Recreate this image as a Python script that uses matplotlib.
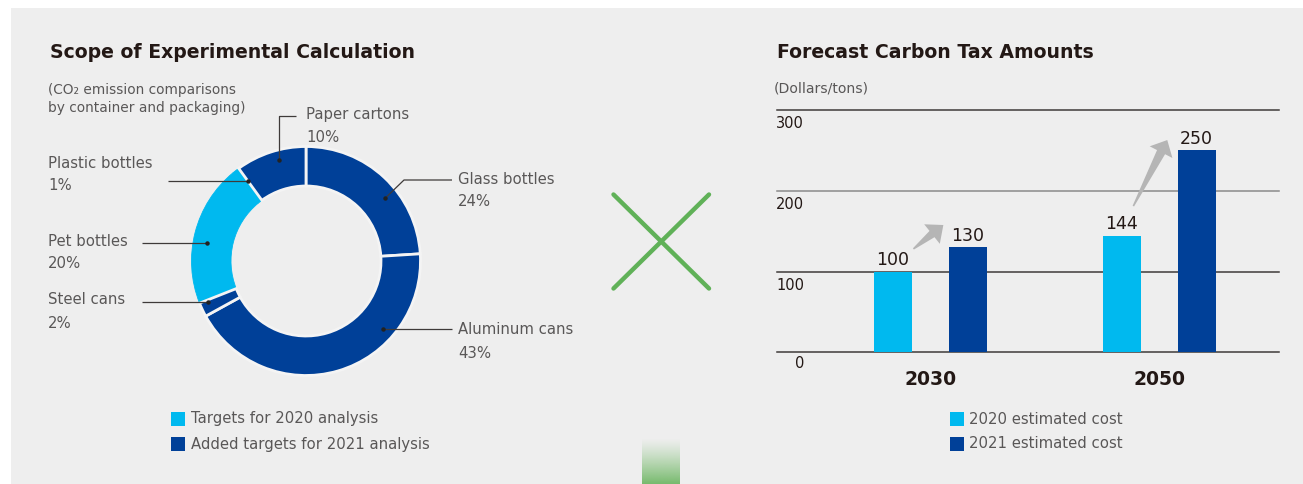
import numpy as np
import matplotlib
matplotlib.use("Agg")
import matplotlib.pyplot as plt
from matplotlib.patches import Rectangle, Polygon

# ---------------- data ----------------
pie_labels = ["Glass bottles", "Aluminum cans", "Steel cans", "Pet bottles", "Plastic bottles", "Paper cartons"]
pie_values = [24, 43, 2, 20, 1, 10]
pie_group = [1, 1, 1, 0, 0, 1]          # 0 = Targets for 2020, 1 = Added for 2021
pie_legend = ["Targets for 2020 analysis", "Added targets for 2021 analysis"]

years = ["2030", "2050"]
cost_2020 = [100, 144]
cost_2021 = [130, 250]
bar_legend = ["2020 estimated cost", "2021 estimated cost"]
y_ticks = [0, 100, 200, 300]

LIGHT = "#00b9ef"
DARK = "#004098"
colors = [LIGHT, DARK]
TXT = "#595757"
DK = "#231815"
BG = "#eeeeee"
FONT = "DejaVu Sans"
plt.rcParams["font.family"] = [FONT]

W, H = 1303, 484
fig = plt.figure(figsize=(W / 100, H / 100), dpi=100)
fig.patch.set_facecolor("white")


def frac(x0, ytop, w, h):
    return [x0 / W, (H - ytop - h) / H, w / W, h / H]


# background axes (pixel coords, y down)
ax_bg = fig.add_axes([0, 0, 1, 1], zorder=0)
ax_bg.set_xlim(0, W)
ax_bg.set_ylim(H, 0)
ax_bg.axis("off")
ax_bg.add_patch(Rectangle((11, 8), W - 11, H - 8, color=BG, lw=0))

# gradient strip
grad = np.zeros((60, 1, 4))
g = np.array([120, 187, 110]) / 255
grad[:, 0, :3] = g
grad[:, 0, 3] = np.linspace(0, 1, 60) ** 1.2
ax_bg.imshow(grad, extent=(642, 680, 484, 438), aspect="auto", interpolation="bilinear", zorder=1)
ax_bg.set_xlim(0, W)
ax_bg.set_ylim(H, 0)

# green X
for (x0, y0, x1, y1) in [(613.5, 194.5, 709, 288.5), (709, 194.5, 613.5, 288.5)]:
    ax_bg.plot([x0, x1], [y0, y1], color="#60b158", lw=3.2, solid_capstyle="round")

# ---------------- donut ----------------
cx, cy, R, half = 306, 261, 114.5, 120
ax_pie = fig.add_axes(frac(cx - half, cy - half, 2 * half, 2 * half), zorder=1)
ax_pie.patch.set_alpha(0)
wedges, _ = ax_pie.pie(pie_values, colors=[colors[g] for g in pie_group], startangle=90,
                       counterclock=False, radius=1, wedgeprops=dict(width=0.345))
for w, grp in zip(wedges, pie_group):
    if grp == 0:
        w.set_edgecolor(w.get_facecolor())
        w.set_linewidth(0.6)
        w.set_zorder(1)
    else:
        w.set_edgecolor("#f4f4f4")
        w.set_linewidth(2.0)
        w.set_zorder(2)
lim = half / R
ax_pie.set_xlim(-lim, lim)
ax_pie.set_ylim(-lim, lim)
ax_pie.axis("off")

# top overlay (pixel coords, y down)
ax_top = fig.add_axes([0, 0, 1, 1], zorder=3)
ax_top.set_xlim(0, W)
ax_top.set_ylim(H, 0)
ax_top.axis("off")
ax_top.patch.set_alpha(0)


def ring_pt(angle_deg, r):
    a = np.deg2rad(angle_deg)
    return cx + R * r * np.sin(a), cy - R * r * np.cos(a)


LC = "#3e3a39"
# label layout: (text x, text y, anchor angle, anchor radius, route)
layout = {
    "Glass bottles": (458, 179, 51.6, 0.88, "glass"),
    "Aluminum cans": (458, 330, 131.5, 0.90, "right"),
    "Steel cans": (48, 300, 247.4, 0.93, "left"),
    "Pet bottles": (48, 241, 280.2, 0.88, "left"),
    "Plastic bottles": (48, 163, 324.1, 0.86, "left_far"),
    "Paper cartons": (306, 115, 345.2, 0.91, "top"),
}
for lab, val in zip(pie_labels, pie_values):
    tx, ty, ang, rr, route = layout[lab]
    px, py = ring_pt(ang, rr)
    if route == "glass":
        xs, ys = [452, 404, px], [180, 180, py]
    elif route == "right":
        xs, ys = [452, px], [py, py]
    elif route == "left":
        xs, ys = [142, px], [py, py]
    elif route == "left_far":
        xs, ys = [168, px], [py, py]
    else:
        xs, ys = [296, px, px], [116, 116, py]
    ax_top.plot(xs, ys, color=LC, lw=0.9, solid_capstyle="butt")
    ax_top.plot([px], [py], "o", color="#222222", ms=2.2)
    ax_top.text(tx, ty, lab, fontsize=10.7, color=TXT, ha="left", va="center")
    ax_top.text(tx, ty + 23, f"{val}%", fontsize=10.7, color=TXT, ha="left", va="center")

# titles
ax_top.text(50, 53, "Scope of Experimental Calculation", fontsize=13.6, fontweight="bold", color=DK,
            ha="left", va="center")
ax_top.text(48, 90, "(CO\u2082 emission comparisons", fontsize=9.9, color=TXT, ha="left", va="center")
ax_top.text(48, 108, "by container and packaging)", fontsize=9.9, color=TXT, ha="left", va="center")
ax_top.text(777, 53, "Forecast Carbon Tax Amounts", fontsize=13.6, fontweight="bold", color=DK,
            ha="left", va="center")
ax_top.text(774, 89, "(Dollars/tons)", fontsize=10.1, color=TXT, ha="left", va="center")

# legends
for i, (name, col) in enumerate(zip(pie_legend, colors)):
    y = 419 + 25 * i
    ax_top.add_patch(Rectangle((171, y - 7), 14, 14, color=col, lw=0))
    ax_top.text(191, y, name, fontsize=10.7, color=TXT, ha="left", va="center")
for i, (name, col) in enumerate(zip(bar_legend, colors)):
    y = 419 + 25 * i
    ax_top.add_patch(Rectangle((950, y - 7), 14, 14, color=col, lw=0))
    ax_top.text(969, y, name, fontsize=10.7, color=TXT, ha="left", va="center")

# ---------------- bars ----------------
ax_bar = fig.add_axes(frac(777, 110, 502, 242.3), zorder=1)
ax_bar.patch.set_alpha(0)
ax_bar.set_xlim(-0.672, 1.525)
ax_bar.set_ylim(0, 300)
for s in ax_bar.spines.values():
    s.set_visible(False)
line_cols = {0: "#3e3a39", 100: "#3e3a39", 200: "#8a8a8a", 300: "#3e3a39"}
for t in y_ticks:
    ax_bar.axhline(t, color=line_cols[t], lw=1.1, zorder=1, clip_on=False)
    ax_bar.annotate(str(t), xy=(0, t), xycoords=("axes fraction", "data"),
                    xytext=(27, -16 if t == 0 else -18.2),
                    textcoords="offset pixels", ha="right", va="baseline", fontsize=10.5, color=DK)
ax_bar.set_yticks([])

x = np.arange(len(years))
off, bw = 0.164, 0.1663
b1 = ax_bar.bar(x - off, cost_2020, width=bw, color=LIGHT, zorder=2)
b2 = ax_bar.bar(x + off, cost_2021, width=bw, color=DARK, zorder=2)
for bars, vals in [(b1, cost_2020), (b2, cost_2021)]:
    for r, v in zip(bars, vals):
        ax_bar.annotate(str(v), xy=(r.get_x() + r.get_width() / 2, v), xytext=(0, 6.7),
                        textcoords="offset pixels", ha="center", va="baseline", fontsize=12.5, color=DK)
ax_bar.set_xticks(x, years)
ax_bar.tick_params(axis="x", length=0, pad=12.5, labelsize=13.5, labelcolor=DK)
for lbl in ax_bar.get_xticklabels():
    lbl.set_fontweight("bold")


def arrow(ax, tail, tip, shaft, head_w, head_len, color="#b5b5b5"):
    T = ax.transData.transform(tail)
    P = ax.transData.transform(tip)
    u = (P - T) / np.linalg.norm(P - T)
    n = np.array([-u[1], u[0]])
    B = P - u * head_len
    pts = [T + n * 0.8, B + n * shaft / 2, B + n * head_w / 2, P, B - n * head_w / 2, B - n * shaft / 2,
           T - n * 0.8]
    pts = ax.transData.inverted().transform(np.array(pts))
    ax.add_patch(Polygon(pts, closed=True, color=color, lw=0, zorder=3, clip_on=False))


# growth arrows from 2020 estimate to 2021 estimate
arrow(ax_bar, (x[0] - 0.075, cost_2020[0] + 28), (x[0] + 0.056, cost_2021[0] + 27.6), 8, 25, 14.5)
arrow(ax_bar, (x[1] - 0.1125, cost_2020[1] + 37), (x[1] + 0.036, cost_2021[1] + 12.8), 9, 25.5, 13.6)

fig.savefig("out.png", dpi=100, facecolor=fig.get_facecolor())
